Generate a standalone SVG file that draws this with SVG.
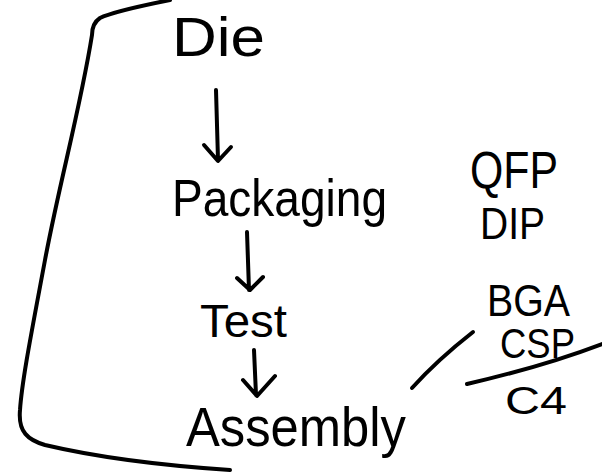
<svg xmlns="http://www.w3.org/2000/svg" width="602" height="472" viewBox="0 0 602 472">
<style>
.t{font-family:"Liberation Sans",Arial,sans-serif;fill:#000;}
.s{fill:none;stroke:#000;stroke-width:4;stroke-linecap:round;stroke-linejoin:round;}
</style>
<rect width="602" height="472" fill="#fff"/>
<g id="bracket">
<path class="s" d="M170,0 C140,6 112,12 100,18 C94,22 92,28 92,35 C80,110 60,180 45,260 C32,330 22,380 20,410 C18,432 28,440 45,445 C100,458 170,466 230,470"/>
</g>
<g id="connectors">
<path class="s" d="M216,90 L218,160 M204,145 L218,161 L231,147"/>
<path class="s" d="M247,232 L249,290 M237,278 L250,290 L263,277"/>
<path class="s" d="M254,350 L256,395 M243,380 L257,396 L275,376"/>
<path class="s" d="M412,388 C430,368 450,350 473,332"/>
<path class="s" d="M467,384 C510,374 560,360 602,344"/>
</g>
<g id="die"><text class="t" x="172" y="56" font-size="56" textLength="93" lengthAdjust="spacingAndGlyphs">Die</text></g>
<g id="packaging"><text class="t" x="172" y="216" font-size="52" textLength="215" lengthAdjust="spacingAndGlyphs">Packaging</text></g>
<g id="test"><text class="t" x="200" y="337" font-size="46" textLength="87" lengthAdjust="spacingAndGlyphs">Test</text></g>
<g id="assembly"><text class="t" x="186" y="446" font-size="56" textLength="220" lengthAdjust="spacingAndGlyphs">Assembly</text></g>
<g id="qfp"><text class="t" x="470" y="188" font-size="52" textLength="88" lengthAdjust="spacingAndGlyphs">QFP</text></g>
<g id="dip"><text class="t" x="480" y="239" font-size="44" textLength="65" lengthAdjust="spacingAndGlyphs">DIP</text></g>
<g id="bga"><text class="t" x="487" y="316" font-size="44" textLength="83" lengthAdjust="spacingAndGlyphs">BGA</text></g>
<g id="csp"><text class="t" x="500" y="358" font-size="42" textLength="75" lengthAdjust="spacingAndGlyphs">CSP</text></g>
<g id="c4"><text class="t" x="505" y="414" font-size="38" textLength="62" lengthAdjust="spacingAndGlyphs">C4</text></g>
</svg>
